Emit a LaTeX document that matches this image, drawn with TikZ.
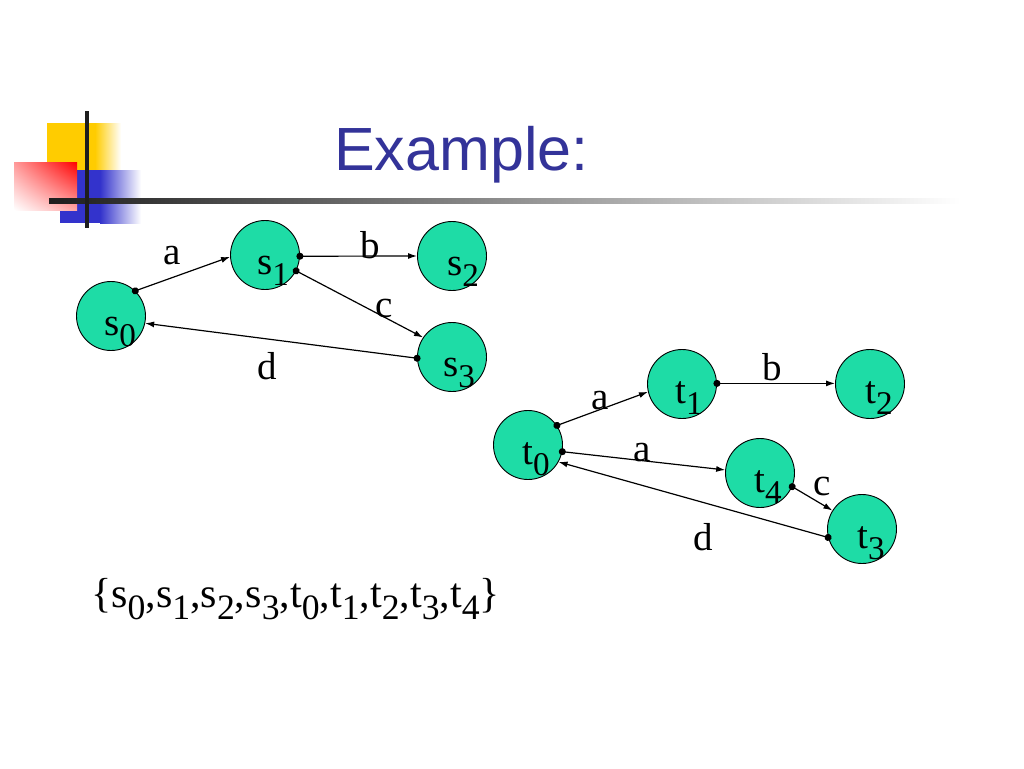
\documentclass[tikz,border=0pt]{standalone}
\usepackage{fontspec}
\setmainfont{Liberation Serif}
\newfontfamily\titlefont{Liberation Sans}
\usetikzlibrary{arrows.meta,calc,shadings}
\definecolor{nodefill}{RGB}{30,220,166}
\definecolor{titleblue}{RGB}{51,51,153}
\definecolor{decoyellow}{RGB}{255,204,0}
\definecolor{decoblue}{RGB}{51,51,204}
\definecolor{decodark}{RGB}{30,30,30}
\newcommand\sbs[1]{\raisebox{-0.3em}{\scalebox{0.85}{#1}}}
\tikzset{
  st/.style={circle, draw=black, line width=0.9pt, fill=nodefill, minimum size=69pt, inner sep=0pt},
  txt/.style={anchor=base west, inner sep=0pt, font=\fontsize{39}{39}\selectfont},
  elab/.style={anchor=center, inner sep=0pt, font=\fontsize{39}{39}\selectfont},
  tr/.style={line width=1.2pt, {Circle[length=7pt]}-{Latex[length=9pt,width=6pt]}, shorten <=-3.5pt}
}
\begin{document}
\begin{tikzpicture}[x=1pt,y=-1pt]
\useasboundingbox (0,0) rectangle (1024,768);
% decoration
\fill[decoyellow] (47,123) rectangle (95,170);
\shade[left color=decoyellow, right color=white] (95,123) rectangle (121,170);
\fill[decoblue] (60,170) rectangle (100,223);
\shade[left color=decoblue, right color=white] (100,170) rectangle (141,223);
\shade[upper right=red, upper left=red!40, lower right=red!35, lower left=white] (14,162) rectangle (77,210);
\shade[left color=decodark, right color=white] (49,198.5) rectangle (960,203.5);
\fill[decodark] (85,111) rectangle (89,228);
% title
\node[anchor=base west, inner sep=0pt, text=titleblue, font=\titlefont\fontsize{61}{61}\selectfont] (title) at (334,170) {Example:};
% s graph
\node[st] (s0) at (111,316) {};
\node[st] (s1) at (265,255) {};
\node[st] (s2) at (452,256) {};
\node[st] (s3) at (452,357) {};
\node[txt] (s0l) at ($(s0.center)+(-7,19)$) {s\sbs{0}};
\node[txt] (s1l) at ($(s1.center)+(-8,19)$) {s\sbs{1}};
\node[txt] (s2l) at ($(s2.center)+(-5,19)$) {s\sbs{2}};
\node[txt] (s3l) at ($(s3.center)+(-9,19)$) {s\sbs{3}};
\draw[tr] (s0.46) -- (s1.183);
\draw[tr] (s1.358) -- (s2.180);
\draw[tr] (s1.333) -- (s3.146);
\draw[tr] (s3.182) -- (s0.348);
\node[elab] (la) at (172,256) {a};
\node[elab] (lb) at (370,245) {b};
\node[elab] (lc) at (384,308) {c};
\node[elab] (ld) at (267,366) {d};
% t graph
\node[st] (t0) at (528,445) {};
\node[st] (t1) at (682,384) {};
\node[st] (t2) at (870,384) {};
\node[st] (t4) at (760,473) {};
\node[st] (t3) at (862,529) {};
\node[txt] (t0l) at ($(t0.center)+(-6,19)$) {t\sbs{0}};
\node[txt] (t1l) at ($(t1.center)+(-7,19)$) {t\sbs{1}};
\node[txt] (t2l) at ($(t2.center)+(-5,19)$) {t\sbs{2}};
\node[txt] (t4l) at ($(t4.center)+(-6,19)$) {t\sbs{4}};
\node[txt] (t3l) at ($(t3.center)+(-5,19)$) {t\sbs{3}};
\draw[tr] (t0.34) -- (t1.193);
\draw[tr] (t1.1) -- (t2.179);
\draw[tr] (t0.349) -- (t4.175);
\draw[tr] (t4.337) -- (t3.148);
\draw[tr] (t3.194) -- (t0.331);
\node[elab] (ma) at (600,401) {a};
\node[elab] (mb) at (772,367) {b};
\node[elab] (mc) at (642,453) {a};
\node[elab] (md) at (822,486) {c};
\node[elab] (me) at (703,537) {d};
% set
\node[txt, font=\fontsize{42}{42}\selectfont] (set) at (91,607) {\{s\sbs{0},s\sbs{1},s\sbs{2},s\sbs{3},t\sbs{0},t\sbs{1},t\sbs{2},t\sbs{3},t\sbs{4}\}};
\end{tikzpicture}
\end{document}
